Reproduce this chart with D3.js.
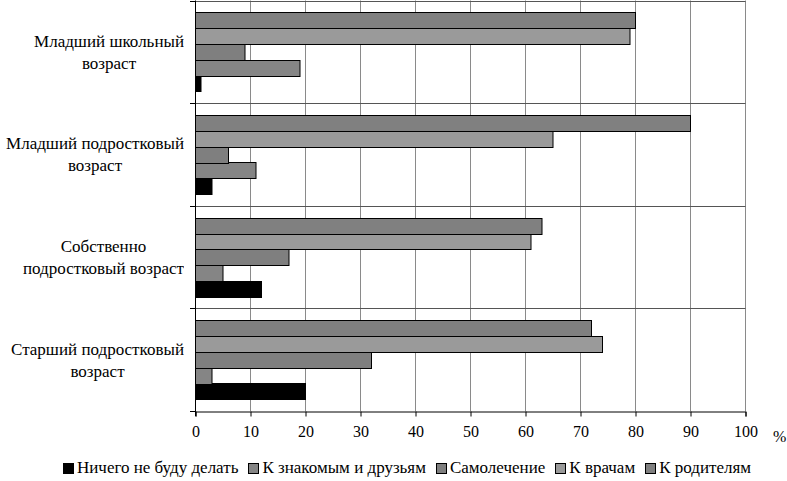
<!DOCTYPE html>
<html><head><meta charset="utf-8">
<script src="https://cdn.jsdelivr.net/npm/d3@7/dist/d3.min.js"></script>
</head><body style="margin:0;background:#fff">
<svg id="chart" width="787" height="481" font-family="Times New Roman, Tinos, Liberation Serif, serif" style="display:block"></svg>
<script>
const categories = [
  ["Младший школьный","возраст"],
  ["Младший подростковый","возраст"],
  ["Собственно","подростковый возраст"],
  ["Старший подростковый","возраст"]
];
const seriesNames = ["Ничего не буду делать","К знакомым и друзьям","Самолечение","К врачам","К родителям"];
const nothing  = [1, 3, 12, 20];
const friends  = [19, 11, 5, 3];
const selfCure = [9, 6, 17, 32];
const doctors  = [79, 65, 61, 74];
const parents  = [80, 90, 63, 72];
const xTicks = [0,10,20,30,40,50,60,70,80,90,100];
const colors = ["#000000","#858585","#7f7f7f","#9a9a9a","#808080"];

const FONT = "Times New Roman, Tinos, Liberation Serif, serif";
const series = [nothing, friends, selfCure, doctors, parents];
const L = 195, R = 745, T = 0.5, B = 411;
const svg = d3.select("#chart");

const x = d3.scaleLinear().domain([0,100]).range([L, R]);
const y = d3.scaleBand().domain(d3.range(categories.length)).range([T, B]);
const order = [4,3,2,1,0];
const ys = d3.scaleBand().domain(order).range([0, y.bandwidth()]).paddingOuter(0.76).paddingInner(0);

svg.append("g").selectAll("line").data(xTicks.slice(1)).join("line")
  .attr("x1", d => Math.round(x(d)) + 0.5).attr("x2", d => Math.round(x(d)) + 0.5)
  .attr("y1", T).attr("y2", B).attr("stroke", "#8a8a8a").attr("stroke-width", 1);
svg.append("g").selectAll("line").data(d3.range(categories.length)).join("line")
  .attr("x1", L).attr("x2", R + 0.5)
  .attr("y1", d => Math.round(y(d)) + 0.5).attr("y2", d => Math.round(y(d)) + 0.5)
  .attr("stroke", "#555").attr("stroke-width", 1);

const g = svg.append("g");
categories.forEach((c, ci) => {
  series.forEach((s, si) => {
    g.append("rect")
      .attr("x", Math.round(x(0)) + 0.5)
      .attr("y", Math.round(y(ci) + ys(si)) + 0.5)
      .attr("width", x(s[ci]) - x(0))
      .attr("height", Math.round(ys.bandwidth()))
      .attr("fill", colors[si]).attr("stroke", "#000").attr("stroke-width", 1);
  });
});

const xa = svg.append("g").attr("transform", `translate(0.5,${Math.round(B)+0.5})`)
  .call(d3.axisBottom(x).tickValues(xTicks).tickSize(5).tickPadding(9).tickFormat(d3.format("d")));
xa.attr("font-family", FONT).attr("font-size", 16);
xa.select(".domain").attr("stroke", "#000");
xa.selectAll(".tick line").attr("stroke", "#000");
xa.selectAll("text").attr("fill", "#000").attr("font-family", FONT).attr("font-size", 16);
svg.append("text").attr("x", 773).attr("y", 442).attr("fill", "#000")
  .attr("font-family", FONT).attr("font-size", 16).text("%");

svg.append("line").attr("x1", L + 0.5).attr("x2", L + 0.5).attr("y1", T).attr("y2", B + 5).attr("stroke", "#000");
svg.append("g").selectAll("line").data(d3.range(categories.length + 1)).join("line")
  .attr("x1", L - 5).attr("x2", L)
  .attr("y1", d => Math.round(d < categories.length ? y(d) : B) + 0.5)
  .attr("y2", d => Math.round(d < categories.length ? y(d) : B) + 0.5)
  .attr("stroke", "#000");

// category labels: block right-aligned at x=183, lines centred within block
categories.forEach((lines, ci) => {
  const fo = svg.append("foreignObject").attr("x", 0).attr("y", y(ci)).attr("width", 184).attr("height", y.bandwidth());
  const outer = fo.append("xhtml:div")
    .style("font-family", FONT).style("font-size", "17px").style("color", "#000")
    .style("display", "flex").style("justify-content", "flex-end").style("align-items", "center")
    .style("width", "184px").style("height", y.bandwidth() + "px");
  const inner = outer.append("xhtml:div").style("text-align", "center").style("line-height", "22px")
    .style("white-space", "nowrap").style("margin-top", "2px");
  lines.forEach(ln => inner.append("xhtml:div").text(ln));
});

// legend
const lfo = svg.append("foreignObject").attr("x", 0).attr("y", 456).attr("width", 787).attr("height", 25);
const ldiv = lfo.append("xhtml:div")
  .style("font-family", FONT).style("font-size", "17px").style("color", "#000")
  .style("display", "flex").style("justify-content", "center").style("align-items", "center")
  .style("width", "814px").style("height", "24px").style("white-space", "nowrap");
seriesNames.forEach((n, i) => {
  const it = ldiv.append("xhtml:div").style("display", "flex").style("align-items", "center").style("margin", "0 5px");
  it.append("xhtml:span").style("display", "inline-block").style("width", "9px").style("height", "9px")
    .style("background", colors[i]).style("border", "1px solid #000").style("margin-right", "3px");
  it.append("xhtml:span").text(n);
});
</script>
</body></html>
